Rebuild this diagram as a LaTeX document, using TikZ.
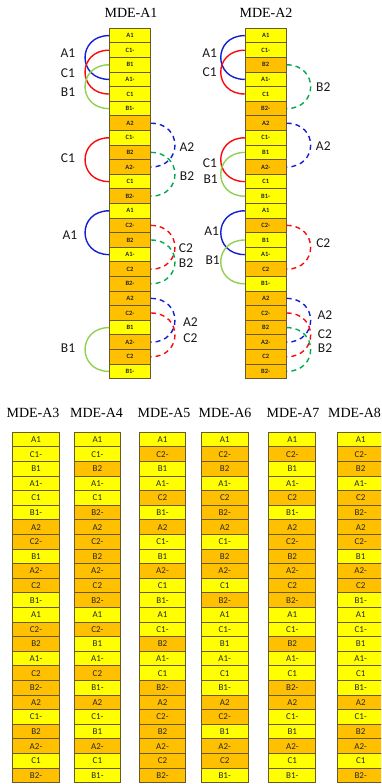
\documentclass[tikz,border=0pt]{standalone}
\usepackage{fontspec}
\setmainfont{Liberation Serif}
\newfontfamily\cellfont{Carlito}
\definecolor{cell1}{RGB}{255,255,0}
\definecolor{cell2}{RGB}{255,192,0}
\definecolor{cellline}{RGB}{105,90,45}
\definecolor{linkA}{RGB}{20,30,210}
\definecolor{linkC}{RGB}{250,10,10}
\definecolor{linkB}{RGB}{146,208,80}
\definecolor{linkBB}{RGB}{0,170,80}

% a vertical stack of cells: name, x centre, top y, style, list of label/digit
\newcommand\cellstack[5]{%
  \foreach \t/\d [count=\i] in {#5} {
    \node[#4, fill=cell\d] (#1-\i) at (#2, {#3 + (\i-0.5)*14.6}) {\t};
  }%
}
% arcs joining two cells of one stack, on the left or the right side
\newcommand\leftlink[4]{%
  \draw[#4] (#1-#2.west) .. controls +(-32,0) and +(-32,0) .. (#1-#3.west);}
\newcommand\rightlink[4]{%
  \draw[#4] (#1-#2.east) .. controls +(32,0) and +(32,0) .. (#1-#3.east);}

\begin{document}
\begin{tikzpicture}[x=1pt,y=-1pt,
  cellbox/.style={draw=cellline, line width=0.9pt, inner sep=0pt,
    minimum height=14.6pt, text=black!85},
  topcell/.style={cellbox, minimum width=41pt,
    font=\cellfont\bfseries\fontsize{6.5}{7}\selectfont},
  lowcell/.style={cellbox, minimum width=46.8pt,
    font=\cellfont\fontsize{9}{10}\selectfont},
  title/.style={font=\fontsize{14}{16}\selectfont},
  tag/.style={font=\cellfont\fontsize{13.5}{15}\selectfont, text=black!90},
  solidA/.style={line width=1.4pt, draw=linkA},
  solidC/.style={line width=1.4pt, draw=linkC},
  solidB/.style={line width=1.4pt, draw=linkB},
  dashA/.style={line width=1.4pt, draw=linkA, dash pattern=on 5pt off 4pt},
  dashC/.style={line width=1.4pt, draw=linkC, dash pattern=on 5pt off 4pt},
  dashB/.style={line width=1.4pt, draw=linkBB, dash pattern=on 5pt off 4pt},
]
\clip (0,0) rectangle (381,784);
\fill[white] (0,0) rectangle (381,784);

% ---------- titles ----------
\node[title] (tA1) at (131,13) {MDE-A1};
\node[title] (tA2) at (266,13) {MDE-A2};
\node[title] (tA3) at (33,413) {MDE-A3};
\node[title] (tA4) at (96.5,413) {MDE-A4};
\node[title] (tA5) at (164,413) {MDE-A5};
\node[title] (tA6) at (225,413) {MDE-A6};
\node[title] (tA7) at (293,413) {MDE-A7};
\node[title] (tA8) at (354.5,413) {MDE-A8};

% ---------- upper stacks ----------
\cellstack{a1}{130}{28.3}{topcell}{A1/1,C1-/1,B1/1,A1-/1,C1/1,B1-/1,
  A2/2,C1-/1,B2/2,A2-/2,C1/1,B2-/2,
  A1/1,C2-/2,B2/2,A1-/1,C2/2,B2-/2,
  A2/2,C2-/2,B1/1,A2-/2,C2/2,B1-/1}
\cellstack{a2}{265.7}{28.3}{topcell}{A1/1,C1-/1,B2/2,A1-/1,C1/1,B2-/2,
  A2/2,C1-/1,B1/1,A2-/2,C1/1,B1-/1,
  A1/1,C2-/2,B1/1,A1-/1,C2/2,B1-/1,
  A2/2,C2-/2,B2/2,A2-/2,C2/2,B2-/2}

% ---------- lower stacks ----------
\cellstack{a3}{36}{432.3}{lowcell}{A1/1,C1-/1,B1/1,A1-/1,C1/1,B1-/1,
  A2/2,C2-/2,B1/1,A2-/2,C2/2,B1-/1,
  A1/1,C2-/2,B2/2,A1-/1,C2/2,B2-/2,
  A2/2,C1-/1,B2/2,A2-/2,C1/1,B2-/2}
\cellstack{a4}{97.4}{432.3}{lowcell}{A1/1,C1-/1,B2/2,A1-/1,C1/1,B2-/2,
  A2/2,C2-/2,B2/2,A2-/2,C2/2,B2-/2,
  A1/1,C2-/2,B1/1,A1-/1,C2/2,B1-/1,
  A2/2,C1-/1,B1/1,A2-/2,C1/1,B1-/1}
\cellstack{a5}{162.5}{432.3}{lowcell}{A1/1,C2-/2,B1/1,A1-/1,C2/2,B1-/1,
  A2/2,C1-/1,B1/1,A2-/2,C1/1,B1-/1,
  A1/1,C1-/1,B2/2,A1-/1,C1/1,B2-/2,
  A2/2,C2-/2,B2/2,A2-/2,C2/2,B2-/2}
\cellstack{a6}{224.7}{432.3}{lowcell}{A1/1,C2-/2,B2/2,A1-/1,C2/2,B2-/2,
  A2/2,C1-/1,B2/2,A2-/2,C1/1,B2-/2,
  A1/1,C1-/1,B1/1,A1-/1,C1/1,B1-/1,
  A2/2,C2-/2,B1/1,A2-/2,C2/2,B1-/1}
\cellstack{a7}{292.3}{432.3}{lowcell}{A1/1,C2-/2,B1/1,A1-/1,C2/2,B1-/1,
  A2/2,C2-/2,B2/2,A2-/2,C2/2,B2-/2,
  A1/1,C1-/1,B2/2,A1-/1,C1/1,B2-/2,
  A2/2,C1-/1,B1/1,A2-/2,C1/1,B1-/1}
\cellstack{a8}{360.7}{432.3}{lowcell}{A1/1,C2-/2,B2/2,A1-/1,C2/2,B2-/2,
  A2/2,C2-/2,B1/1,A2-/2,C2/2,B1-/1,
  A1/1,C1-/1,B1/1,A1-/1,C1/1,B1-/1,
  A2/2,C1-/1,B2/2,A2-/2,C1/1,B2-/2}

% ---------- links of MDE-A1 ----------
\leftlink{a1}{1}{4}{solidA}
\leftlink{a1}{2}{5}{solidC}
\leftlink{a1}{3}{6}{solidB}
\leftlink{a1}{8}{11}{solidC}
\rightlink{a1}{7}{10}{dashA}
\rightlink{a1}{9}{12}{dashB}
\leftlink{a1}{13}{16}{solidA}
\rightlink{a1}{14}{17}{dashC}
\rightlink{a1}{15}{18}{dashB}
\leftlink{a1}{21}{24}{solidB}
\rightlink{a1}{19}{22}{dashA}
\rightlink{a1}{20}{23}{dashC}

\node[tag] (l1) at (68,53.3) {A1};
\node[tag] (l2) at (68,72.7) {C1};
\node[tag] (l3) at (68,92.3) {B1};
\node[tag] (l4) at (68,158.3) {C1};
\node[tag] (l5) at (187,146.7) {A2};
\node[tag] (l6) at (187,176) {B2};
\node[tag] (l7) at (70,235) {A1};
\node[tag] (l8) at (186,248.3) {C2};
\node[tag] (l9) at (186,262.7) {B2};
\node[tag] (l10) at (68,348.3) {B1};
\node[tag] (l11) at (190.5,321.7) {A2};
\node[tag] (l12) at (190.5,337.7) {C2};

% ---------- links of MDE-A2 ----------
\leftlink{a2}{1}{4}{solidA}
\leftlink{a2}{2}{5}{solidC}
\rightlink{a2}{3}{6}{dashB}
\leftlink{a2}{8}{11}{solidC}
\leftlink{a2}{9}{12}{solidB}
\rightlink{a2}{7}{10}{dashA}
\leftlink{a2}{13}{16}{solidA}
\leftlink{a2}{15}{18}{solidB}
\rightlink{a2}{14}{17}{dashC}
\rightlink{a2}{19}{22}{dashA}
\rightlink{a2}{20}{23}{dashC}
\rightlink{a2}{21}{24}{dashB}

\node[tag] (m1) at (209.7,53.3) {A1};
\node[tag] (m2) at (209.7,71.7) {C1};
\node[tag] (m3) at (323.3,87.3) {B2};
\node[tag] (m4) at (323.3,146) {A2};
\node[tag] (m5) at (210,162.7) {C1};
\node[tag] (m6) at (210.7,179.3) {B1};
\node[tag] (m7) at (211.7,230.7) {A1};
\node[tag] (m8) at (212.7,260) {B1};
\node[tag] (m9) at (323.3,242.7) {C2};
\node[tag] (m10) at (325,315) {A2};
\node[tag] (m11) at (325,334) {C2};
\node[tag] (m12) at (325,348.3) {B2};
\end{tikzpicture}
\end{document}
